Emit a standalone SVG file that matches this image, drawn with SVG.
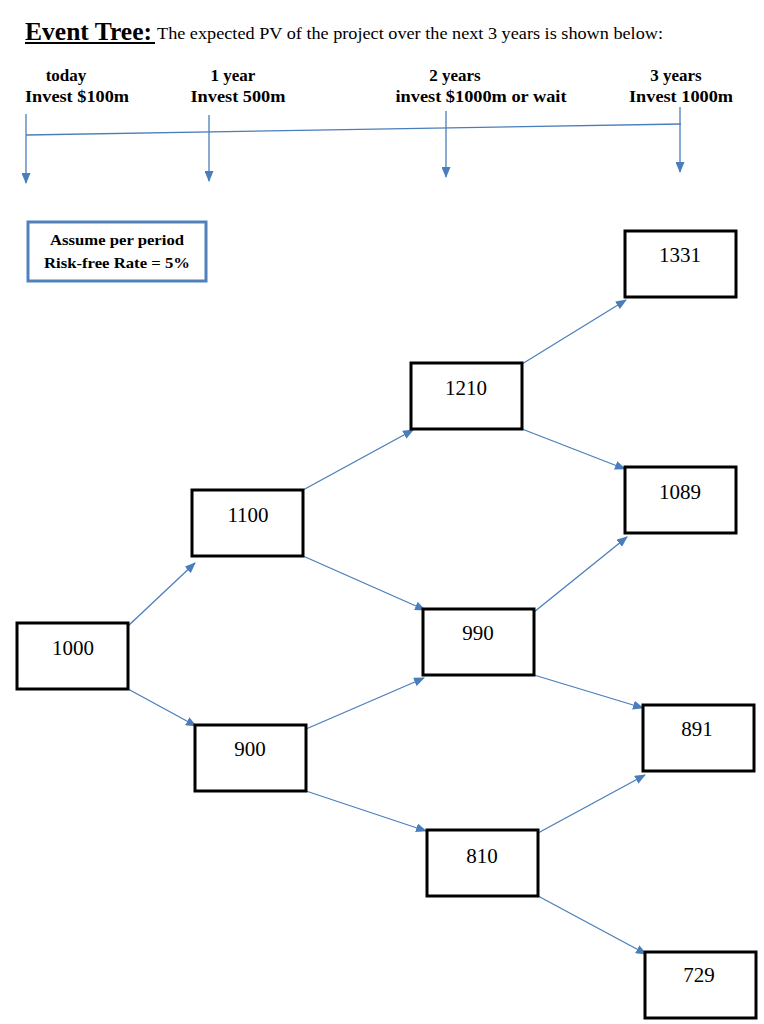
<svg xmlns="http://www.w3.org/2000/svg" width="764" height="1024" viewBox="0 0 764 1024">
<style>
.box{fill:#fff;stroke:#000;stroke-width:3}
.num{font-family:"Liberation Serif","Times New Roman",serif;font-size:21px;fill:#000;text-anchor:middle}
.lbl{font-family:"Liberation Serif","Times New Roman",serif;font-size:17px;font-weight:bold;fill:#000;text-anchor:middle}
.sm{font-size:15px}
.con{stroke:#4a7ebb;stroke-width:1.3;fill:none;marker-end:url(#ah)}
.tl{stroke:#4a7ebb;stroke-width:1.3;fill:none}
</style>
<defs>
<marker id="ah" markerUnits="userSpaceOnUse" markerWidth="11" markerHeight="9" refX="10" refY="4.5" orient="auto">
<path d="M0,0 L11,4.5 L0,9 z" fill="#4a7ebb"/>
</marker>
</defs>
<rect width="764" height="1024" fill="#fff"/>
<g id="title">
<text x="25" y="40" font-family="Liberation Serif,Times New Roman,serif" font-size="26" font-weight="bold" textLength="127" lengthAdjust="spacingAndGlyphs">Event Tree:</text>
<line x1="25" y1="43" x2="155" y2="43" stroke="#000" stroke-width="2"/>
<text x="157" y="39" font-family="Liberation Serif,Times New Roman,serif" font-size="17" textLength="506" lengthAdjust="spacingAndGlyphs">The expected PV of the project over the next 3 years is shown below:</text>
</g>
<g id="timeline-labels">
<text class="lbl" x="66" y="81">today</text>
<text class="lbl" x="77" y="102" textLength="104" lengthAdjust="spacingAndGlyphs">Invest $100m</text>
<text class="lbl" x="233" y="81">1 year</text>
<text class="lbl" x="238" y="102" textLength="95" lengthAdjust="spacingAndGlyphs">Invest 500m</text>
<text class="lbl" x="455" y="81">2 years</text>
<text class="lbl" x="481" y="102" textLength="171" lengthAdjust="spacingAndGlyphs">invest $1000m or wait</text>
<text class="lbl" x="676" y="81">3 years</text>
<text class="lbl" x="681" y="102" textLength="104" lengthAdjust="spacingAndGlyphs">Invest 1000m</text>
</g>
<g id="timeline">
<line class="tl" x1="26" y1="135" x2="681" y2="124"/>
<line class="con" x1="26" y1="114" x2="26" y2="183"/>
<line class="con" x1="209" y1="115" x2="209" y2="181"/>
<line class="con" x1="446" y1="111" x2="446" y2="177"/>
<line class="con" x1="680" y1="107" x2="680" y2="172"/>
</g>
<g id="assume">
<rect x="28" y="222" width="178" height="59" fill="#fff" stroke="#4f81bd" stroke-width="3"/>
<text class="lbl sm" x="117" y="245" textLength="134" lengthAdjust="spacingAndGlyphs">Assume per period</text>
<text class="lbl sm" x="117" y="268" textLength="146" lengthAdjust="spacingAndGlyphs">Risk-free Rate = 5%</text>
</g>
<g id="connectors">
<line class="con" x1="128" y1="626" x2="195" y2="563"/>
<line class="con" x1="128" y1="689" x2="196" y2="726"/>
<line class="con" x1="303" y1="490" x2="413" y2="430"/>
<line class="con" x1="303" y1="556" x2="425" y2="610"/>
<line class="con" x1="306" y1="729" x2="424" y2="678"/>
<line class="con" x1="306" y1="791" x2="426" y2="831"/>
<line class="con" x1="522" y1="364" x2="626" y2="300"/>
<line class="con" x1="522" y1="429" x2="625" y2="469"/>
<line class="con" x1="534" y1="612" x2="627" y2="537"/>
<line class="con" x1="534" y1="675" x2="643" y2="708"/>
<line class="con" x1="538" y1="833" x2="645" y2="775"/>
<line class="con" x1="538" y1="896" x2="646" y2="954"/>
</g>
<g id="n1000"><rect class="box" x="17" y="623" width="111" height="66"/><text class="num" x="73" y="655">1000</text></g>
<g id="n1100"><rect class="box" x="192" y="490" width="111" height="66"/><text class="num" x="248" y="522">1100</text></g>
<g id="n900"><rect class="box" x="195" y="725" width="111" height="66"/><text class="num" x="250" y="756">900</text></g>
<g id="n1210"><rect class="box" x="411" y="363" width="111" height="66"/><text class="num" x="466" y="395">1210</text></g>
<g id="n990"><rect class="box" x="423" y="609" width="111" height="66"/><text class="num" x="478" y="640">990</text></g>
<g id="n810"><rect class="box" x="427" y="830" width="111" height="66"/><text class="num" x="482" y="863">810</text></g>
<g id="n1331"><rect class="box" x="625" y="231" width="111" height="66"/><text class="num" x="680" y="262">1331</text></g>
<g id="n1089"><rect class="box" x="625" y="467" width="111" height="66"/><text class="num" x="680" y="499">1089</text></g>
<g id="n891"><rect class="box" x="643" y="705" width="111" height="66"/><text class="num" x="697" y="736">891</text></g>
<g id="n729"><rect class="box" x="645" y="952" width="111" height="66"/><text class="num" x="699" y="982">729</text></g>
</svg>
